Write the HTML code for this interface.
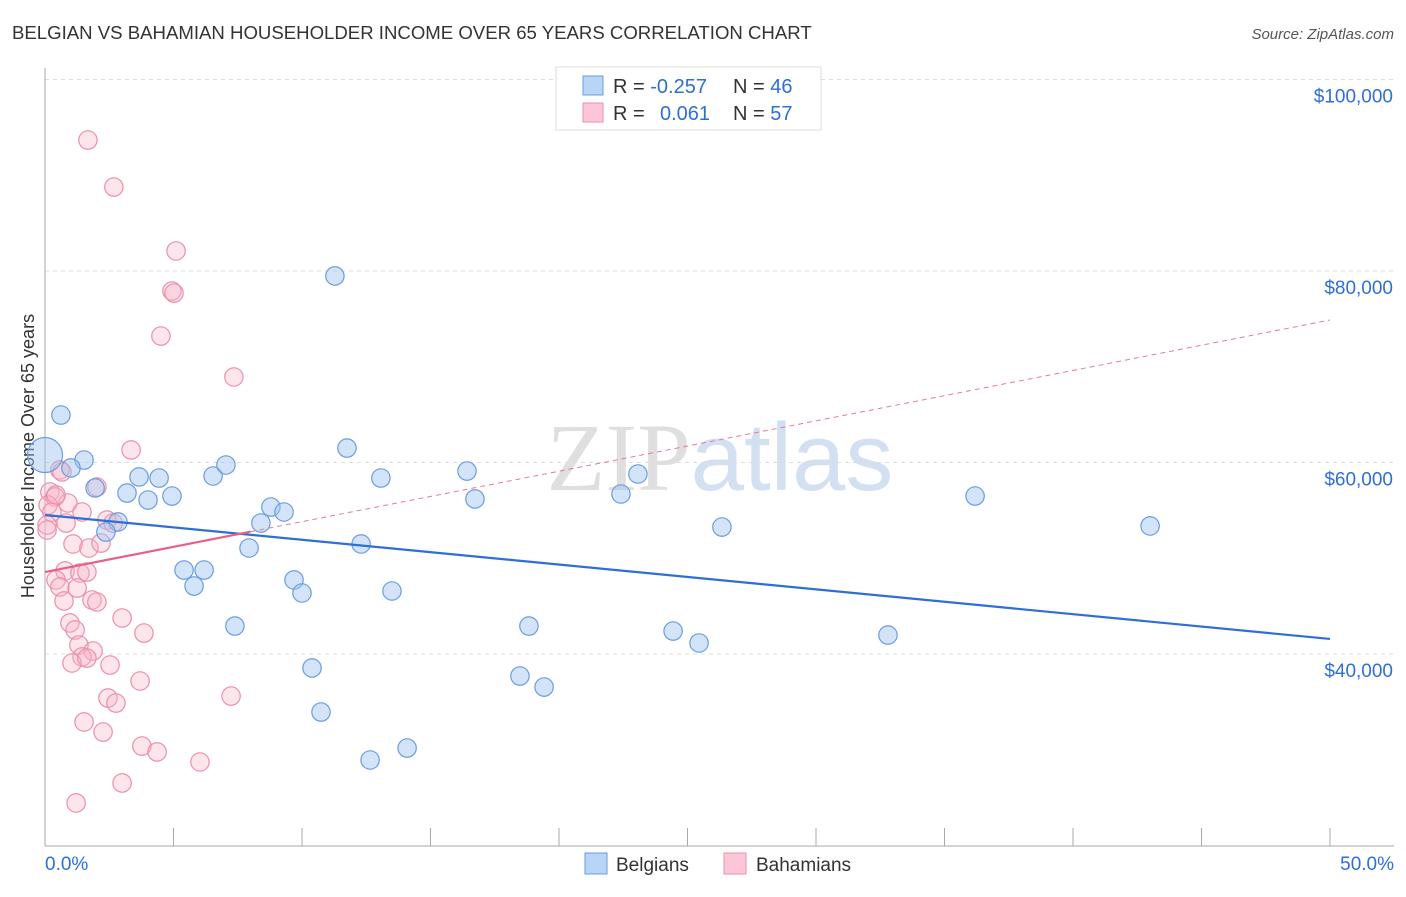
<!DOCTYPE html>
<html><head><meta charset="utf-8"><style>
body{margin:0;background:#fff;font-family:"Liberation Sans",sans-serif;}
svg text{font-family:"Liberation Sans",sans-serif;}
</style></head><body>
<svg id="chart" width="1406" height="892" xmlns="http://www.w3.org/2000/svg">
<text x="12" y="39" font-size="18.6" fill="#333">BELGIAN VS BAHAMIAN HOUSEHOLDER INCOME OVER 65 YEARS CORRELATION CHART</text>
<text x="1394" y="39" font-size="15" fill="#555" font-style="italic" text-anchor="end">Source: ZipAtlas.com</text>
<text x="720" y="490" font-size="96" fill="#ddd" text-anchor="middle" opacity="0.8"><tspan font-family="Liberation Serif" fill="#d8d8d8">ZIP</tspan><tspan fill="#c9d9ee">atlas</tspan></text>
<text transform="translate(34,456) rotate(-90)" font-size="18" fill="#333" text-anchor="middle">Householder Income Over 65 years</text>
<g id="grid"></g><g id="axes"></g><g id="pts"></g><g id="trend"></g>
<g>
<rect x="556" y="67" width="265" height="63" fill="#fff" stroke="#ddd"/>
<rect x="583" y="76" width="20" height="19" fill="#b8d4f6" stroke="#6a9de0"/>
<rect x="583" y="103" width="20" height="19" fill="#fcc6d6" stroke="#ec8fab"/>
<text x="613" y="93" font-size="20" fill="#333">R = <tspan fill="#2e6fd6">-0.257</tspan></text>
<text x="733" y="93" font-size="20" fill="#333">N = <tspan fill="#2e6fd6">46</tspan></text>
<text x="613" y="120" font-size="20" fill="#333">R = <tspan fill="#2e6fd6" x="660">0.061</tspan></text>
<text x="733" y="120" font-size="20" fill="#333">N = <tspan fill="#2e6fd6">57</tspan></text>
</g>
<g>
<rect x="585" y="853" width="22" height="21" fill="#b8d4f6" stroke="#6a9de0"/>
<text x="616" y="871" font-size="19" fill="#333">Belgians</text>
<rect x="724" y="853" width="22" height="21" fill="#fcc6d6" stroke="#ec8fab"/>
<text x="756" y="871" font-size="19" fill="#333">Bahamians</text>
</g>
</svg>
<script>
const yTicks=[40,60,80,100];
const yTickLabels=["$40,000","$60,000","$80,000","$100,000"];
const xTickLabels=["0.0%","50.0%"];
const belgX=[0.62,0,1.52,1.01,1.95,3.19,3.66,4.44,4.01,4.94,6.54,7.04,2.84,2.37,5.41,6.19,5.80,7.94,7.39,8.79,9.30,8.40,9.69,10.00,10.39,10.74,11.28,11.75,12.30,13.07,13.50,12.65,14.09,16.42,16.73,18.83,18.48,19.42,22.41,23.07,24.44,25.45,26.34,32.80,36.19,43.00];
const belgY=[64.96,60.78,60.26,59.43,57.34,56.81,58.49,58.38,56.08,56.50,58.59,59.74,53.79,52.74,48.77,48.77,47.10,51.07,42.92,55.35,54.83,53.68,47.73,46.37,38.54,33.94,79.48,61.51,51.49,58.38,46.58,28.93,30.18,59.11,56.19,42.92,37.70,36.55,56.71,58.80,42.40,41.15,53.26,41.98,56.50,53.37];
const bahX=[1.67,2.68,5.10,4.94,5.02,4.51,7.35,3.35,0.58,0.66,0.19,0.39,0.89,0.12,2.02,0.27,1.44,0.82,0.08,2.41,2.65,1.09,1.71,2.18,0.78,1.36,1.63,0.43,0.58,1.25,1.83,2.02,0.74,0.97,1.17,3.00,3.85,1.32,1.87,1.44,2.53,1.05,1.63,3.70,2.45,2.76,1.52,2.26,3.77,4.36,6.03,7.24,3.00,1.21,0.43,0.08];
const bahY=[93.68,88.77,82.09,77.91,77.70,73.21,68.93,61.31,59.22,59.01,56.92,56.40,55.77,55.56,57.44,54.83,54.83,53.68,53.47,53.99,53.68,51.49,51.07,51.59,48.67,48.46,48.56,47.73,47.00,46.89,45.64,45.43,45.54,43.24,42.51,43.76,42.19,40.94,40.31,39.69,38.85,39.06,39.58,37.18,35.40,34.88,32.90,31.85,30.39,29.77,28.72,35.61,26.53,24.44,56.61,52.95];
const belgTrend=[54.52,41.57];
const bahTrend=[48.56,74.88];
const NS="http://www.w3.org/2000/svg";
const sx=v=>45+v*25.7;
const sy=v=>654-(v-40)*9.575;
function mk(tag,attrs,parent){const e=document.createElementNS(NS,tag);for(const k in attrs)e.setAttribute(k,attrs[k]);document.getElementById(parent).appendChild(e);return e;}
yTicks.forEach((t,i)=>{
 const g=mk('line',{x1:45,x2:1394,y1:sy(t),y2:sy(t),stroke:'#ddd','stroke-dasharray':'4,4'},'grid');
 
 
 const l=mk('text',{x:1393,y:sy(t)+23,'font-size':19,fill:'#2e6fd6','text-anchor':'end'},'axes');
 l.textContent=yTickLabels[i];
 
 
});
mk('line',{x1:45,x2:45,y1:68,y2:846,stroke:'#aaa'},'axes');
mk('line',{x1:45,x2:1394,y1:846,y2:846,stroke:'#aaa'},'axes');
for(let i=0;i<=10;i++){const x=sx(i*5);mk('line',{x1:x,x2:x,y1:828,y2:846,stroke:'#aaa'},'axes');}
const xl0=mk('text',{x:45,y:870,'font-size':19,fill:'#2e6fd6'},'axes');xl0.textContent=xTickLabels[0];


const xl1=mk('text',{x:1394,y:870,'font-size':19,fill:'#2e6fd6','text-anchor':'end'},'axes');xl1.textContent=xTickLabels[1];


bahX.forEach((x,i)=>{
 const c=mk('circle',{cx:sx(x),cy:sy(bahY[i]),r:9.2,fill:'rgba(248,180,200,0.35)',stroke:'#ec8fab','stroke-width':1.2},'pts');
 
 
});
belgX.forEach((x,i)=>{
 const c=mk('circle',{cx:sx(x),cy:sy(belgY[i]),r:i==1?17.5:9.2,fill:'rgba(160,195,240,0.45)',stroke:'#6a9de0','stroke-width':1.2},'pts');
 
 
});
const bl=mk('line',{x1:sx(0),y1:sy(belgTrend[0]),x2:sx(50),y2:sy(belgTrend[1]),stroke:'#2e6fd6','stroke-width':2.2},'trend');


const pAt=x=>bahTrend[0]+(bahTrend[1]-bahTrend[0])*x/50;
const pd=mk('line',{x1:sx(8),y1:sy(pAt(8)),x2:sx(50),y2:sy(pAt(50)),stroke:'#e8799c','stroke-width':1,'stroke-dasharray':'5,4'},'trend');


const ps=mk('line',{x1:sx(0),y1:sy(pAt(0)),x2:sx(8),y2:sy(pAt(8)),stroke:'#e8608a','stroke-width':2.2},'trend');


</script>
</body></html>
